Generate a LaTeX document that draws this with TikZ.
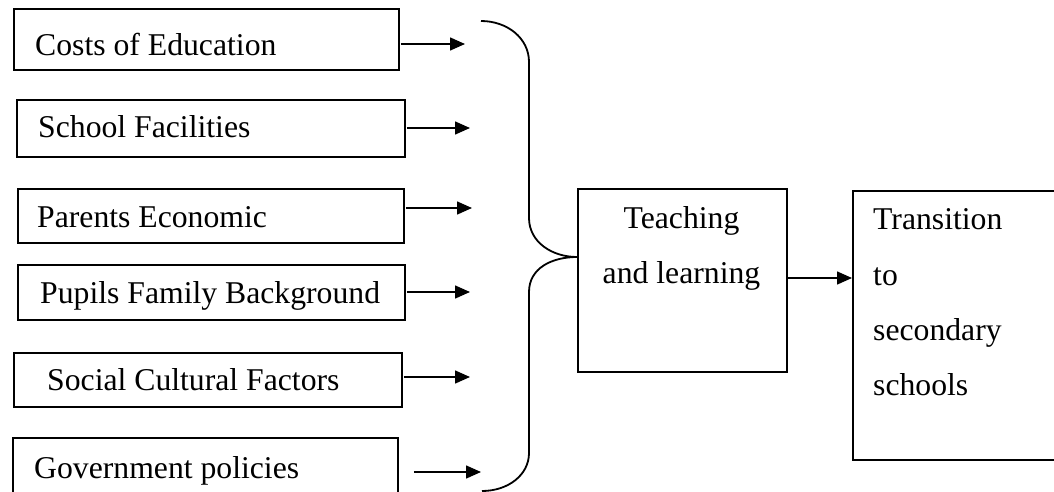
\documentclass[tikz,border=0pt]{standalone}
\usepackage{fontspec}
\setmainfont{Liberation Serif}
\usetikzlibrary{arrows.meta}
\begin{document}
\begin{tikzpicture}[x=1pt,y=-1pt,
  box/.style={draw,line width=1.8pt,inner sep=0pt,anchor=north west},
  lbl/.style={anchor=base west,inner sep=0pt,font=\fontsize{31.7}{38}\selectfont},
  clbl/.style={anchor=base,inner sep=0pt,font=\fontsize{31.7}{38}\selectfont},
  arr/.style={line width=1.5pt,-{Triangle[length=15pt,width=13pt]}},
  brace/.style={line width=1.8pt}]
\useasboundingbox (0,0) rectangle (1054,492);
\clip (0,0) rectangle (1054,492);
% input boxes
\node[box,minimum width=385pt,minimum height=61pt] (b1) at (13,8) {};
\node[box,minimum width=388pt,minimum height=57pt] (b2) at (16,99) {};
\node[box,minimum width=386pt,minimum height=54pt] (b3) at (17,188) {};
\node[box,minimum width=387pt,minimum height=55pt] (b4) at (17,264) {};
\node[box,minimum width=388pt,minimum height=54pt] (b5) at (13,352) {};
\node[box,minimum width=385pt,minimum height=60pt] (b6) at (12,437) {};
\node[lbl] (t1) at (35,56) {Costs of Education};
\node[lbl] (t2) at (38,138) {School Facilities};
\node[lbl] (t3) at (37,227) {Parents Economic};
\node[lbl] (t4) at (40,303) {Pupils Family Background};
\node[lbl] (t5) at (47,390) {Social Cultural Factors};
\node[lbl] (t6) at (34,478) {Government policies};
% arrow ends
\coordinate (e1) at (465,44);
\coordinate (e2) at (470,128);
\coordinate (e3) at (472,208);
\coordinate (e4) at (470,292);
\coordinate (e5) at (470,377);
\coordinate (e6) at (481,472);
\draw[arr] ([xshift=1pt]b1.east |- e1) -- (e1);
\draw[arr] ([xshift=1pt]b2.east |- e2) -- (e2);
\draw[arr] ([xshift=1pt]b3.east |- e3) -- (e3);
\draw[arr] ([xshift=1pt]b4.east |- e4) -- (e4);
\draw[arr] ([xshift=1pt]b5.east |- e5) -- (e5);
\draw[arr] ([xshift=15pt]b6.east |- e6) -- (e6);
% middle and right boxes
\node[box,minimum width=209pt,minimum height=183pt] (tl) at (577,188) {};
\node[clbl] (tl1) at (681.5,228) {Teaching};
\node[clbl] (tl2) at (681.5,283) {and learning};
\node[box,minimum width=210pt,minimum height=269pt] (tr) at (852,190) {};
\node[lbl] (tr1) at (873,229) {Transition};
\node[lbl] (tr2) at (873,285) {to};
\node[lbl] (tr3) at (873,340) {secondary};
\node[lbl] (tr4) at (873,395) {schools};
\draw[arr] (tl.east |- 0,278) -- (tr.west |- 0,278);
% brace
\coordinate (btop) at (481,21);
\coordinate (bbot) at (482,491);
\draw[brace] (btop) .. controls (507,21) and (529,38) .. (529,62)
  -- (529,218) .. controls (529,242) and (552,257) .. (tl.west |- 0,257)
  .. controls (552,257) and (529,268) .. (529,292)
  -- (529,453) .. controls (529,475) and (508,491) .. (bbot);
\end{tikzpicture}
\end{document}
